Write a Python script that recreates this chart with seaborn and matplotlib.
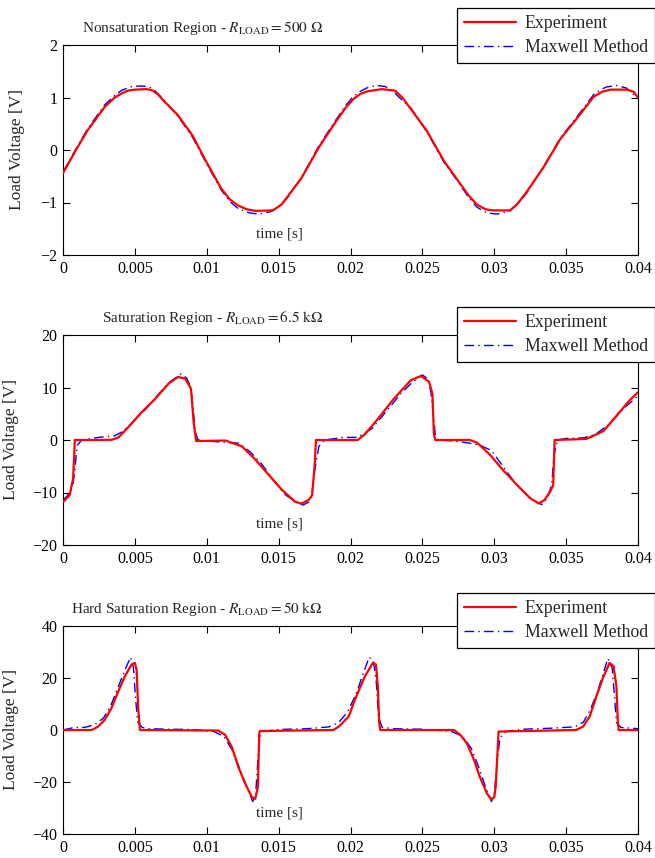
import numpy as np
import pandas as pd
import matplotlib
matplotlib.use('Agg')
import matplotlib.pyplot as plt
import seaborn as sns

# ---- data (time in s, voltage in V) ----
# Nonsaturation region, R_LOAD = 500 Ohm
t1_exp = [0, 0.0009, 0.0017, 0.0029, 0.0036, 0.0041, 0.0045, 0.0050, 0.0058, 0.0062,
          0.0066, 0.0071, 0.0080, 0.0090, 0.0100, 0.0110, 0.0116, 0.0122, 0.0128, 0.0134,
          0.0146, 0.0152, 0.0157, 0.0166, 0.0178, 0.0190, 0.0197, 0.0202, 0.0207, 0.0212,
          0.0222, 0.0231, 0.0236, 0.0242, 0.0253, 0.0265, 0.0276, 0.0282, 0.0288, 0.0294,
          0.0299, 0.0311, 0.0316, 0.0322, 0.0334, 0.0346, 0.0358, 0.0369, 0.0375, 0.0381,
          0.0392, 0.0397, 0.0400]
v1_exp = [-0.44, 0.0, 0.37, 0.82, 1.00, 1.08, 1.13, 1.15, 1.16, 1.14,
          1.06, 0.91, 0.66, 0.28, -0.24, -0.73, -0.94, -1.06, -1.13, -1.16,
          -1.15, -1.04, -0.86, -0.53, 0.05, 0.55, 0.82, 0.97, 1.07, 1.12,
          1.16, 1.13, 1.00, 0.78, 0.37, -0.21, -0.63, -0.86, -1.04, -1.13,
          -1.15, -1.15, -1.03, -0.82, -0.34, 0.21, 0.62, 1.01, 1.11, 1.15,
          1.15, 1.11, 1.00]
t1_mx = [0, 0.0009, 0.0017, 0.0029, 0.0036, 0.0041, 0.0048, 0.0055, 0.0060, 0.0064,
         0.0071, 0.0080, 0.0090, 0.0100, 0.0110, 0.0116, 0.0122, 0.0130, 0.0137, 0.0145,
         0.0151, 0.0157, 0.0166, 0.0178, 0.0190, 0.0197, 0.0202, 0.0207, 0.0212, 0.0218,
         0.0224, 0.0229, 0.0234, 0.0242, 0.0253, 0.0265, 0.0276, 0.0282, 0.0288, 0.0295,
         0.0302, 0.0310, 0.0316, 0.0322, 0.0334, 0.0346, 0.0358, 0.0369, 0.0374, 0.0378,
         0.0385, 0.0392, 0.0400]
v1_mx = [-0.42, 0.02, 0.40, 0.86, 1.04, 1.14, 1.21, 1.22, 1.20, 1.13,
         0.93, 0.64, 0.25, -0.27, -0.76, -0.98, -1.12, -1.20, -1.22, -1.17,
         -1.06, -0.88, -0.52, 0.08, 0.58, 0.86, 1.02, 1.12, 1.19, 1.23,
         1.21, 1.14, 1.00, 0.80, 0.35, -0.23, -0.65, -0.90, -1.09, -1.20,
         -1.22, -1.17, -1.04, -0.84, -0.33, 0.23, 0.65, 1.05, 1.15, 1.20,
         1.23, 1.18, 0.98]

# Saturation region, R_LOAD = 6.5 kOhm
t2_exp = [0, 0.00047, 0.0007, 0.00078, 0.00082, 0.0020, 0.0034, 0.00384, 0.00453, 0.00547,
          0.0064, 0.00733, 0.0080, 0.0085, 0.0089, 0.0091, 0.0092, 0.00926, 0.0113, 0.01244,
          0.01337, 0.0143, 0.01523, 0.01616, 0.0166, 0.0171, 0.01733, 0.0175, 0.0176, 0.0205,
          0.0210, 0.0219, 0.0230, 0.0242, 0.0249, 0.02546, 0.0257, 0.0258, 0.0259, 0.0283,
          0.0288, 0.0297, 0.0306, 0.0316, 0.0325, 0.0331, 0.0335, 0.0339, 0.0341, 0.0342,
          0.0364, 0.0376, 0.0385, 0.0394, 0.0400]
v2_exp = [-11.8, -10.5, -7.3, -3.0, 0.0, 0.0, 0.05, 0.45, 2.4, 5.3,
          7.8, 10.7, 12.0, 11.7, 9.8, 3.0, 1.1, -0.2, -0.1, -1.2,
          -3.7, -6.6, -9.5, -11.8, -12.1, -11.4, -10.5, -5.0, 0.0, 0.0,
          1.1, 4.0, 7.8, 11.4, 12.2, 11.1, 8.8, 1.1, 0.0, 0.0,
          -0.5, -2.8, -5.7, -8.6, -11.1, -12.1, -11.4, -9.8, -8.6, 0.0,
          0.2, 1.7, 4.6, 7.5, 9.1]
t2_mx = [0, 0.0004, 0.0007, 0.0008, 0.0010, 0.0013, 0.0025, 0.0036, 0.0042, 0.0050,
         0.0058, 0.0066, 0.0074, 0.0082, 0.0086, 0.0089, 0.00905, 0.0092, 0.0094, 0.0105,
         0.0115, 0.0122, 0.0130, 0.0138, 0.0146, 0.0155, 0.0162, 0.0167, 0.0171, 0.0173,
         0.0175, 0.0178, 0.0182, 0.0195, 0.0205, 0.0215, 0.0225, 0.0235, 0.0243, 0.0250,
         0.0254, 0.0256, 0.02575, 0.0259, 0.0261, 0.0272, 0.0283, 0.0290, 0.0298, 0.0306,
         0.0314, 0.0322, 0.0328, 0.0333, 0.0337, 0.0340, 0.03415, 0.0344, 0.0350, 0.0362,
         0.0370, 0.0380, 0.0390, 0.0400]
v2_mx = [-11.5, -10.3, -8.5, -6.0, -1.0, 0.0, 0.5, 0.8, 1.7, 3.8,
         6.0, 8.6, 11.0, 12.6, 11.8, 10.0, 6.0, 1.5, 0.0, -0.3,
         -0.5, -0.6, -2.2, -4.5, -7.5, -10.5, -11.8, -12.4, -11.8, -10.5,
         -6.0, -1.2, 0.0, 0.5, 0.5, 2.2, 5.5, 8.8, 11.0, 12.4,
         11.6, 9.0, 5.0, 1.0, 0.0, -0.2, -0.6, -1.0, -2.0, -5.0,
         -8.0, -10.3, -11.6, -12.3, -11.0, -8.5, -3.0, 0.0, 0.3, 0.4,
         1.0, 3.0, 6.0, 8.4]

# Hard saturation region, R_LOAD = 50 kOhm
t3_exp = [0, 0.0020, 0.00244, 0.0029, 0.00337, 0.00384, 0.0043, 0.00477, 0.0050, 0.00512,
          0.00523, 0.00535, 0.0108, 0.01128, 0.01174, 0.0122, 0.01267, 0.01314, 0.01337, 0.01356,
          0.01365, 0.0137, 0.0188, 0.01919, 0.01988, 0.0203, 0.0210, 0.02155, 0.02177, 0.0219,
          0.0220, 0.02207, 0.0272, 0.02765, 0.0281, 0.0286, 0.0290, 0.0295, 0.0298, 0.0300,
          0.0301, 0.0303, 0.0357, 0.03618, 0.03664, 0.0371, 0.03756, 0.03802, 0.0383, 0.0385,
          0.0386, 0.03866, 0.0400]
v3_exp = [0, 0, 1.3, 3.9, 8.4, 14.8, 20.6, 25.2, 25.8, 23.2,
          8.4, 0.0, -0.2, -1.9, -6.5, -14.2, -20.6, -25.8, -26.5, -21.9,
          -1.3, -0.4, 0.0, 1.3, 5.2, 11.6, 20.6, 25.8, 25.2, 16.8,
          2.6, 0.0, 0.0, -1.9, -5.2, -11.6, -18.1, -24.5, -26.7, -25.8,
          -21.9, -0.6, 0.0, 1.3, 5.2, 12.9, 20.0, 25.8, 24.5, 16.8,
          2.6, 0.0, 0.0]
t3_mx = [0, 0.0008, 0.0015, 0.0022, 0.0028, 0.0033, 0.0038, 0.0043, 0.0047, 0.0049,
         0.00505, 0.0052, 0.0055, 0.0060, 0.0075, 0.0090, 0.0105, 0.0112, 0.0118, 0.0123,
         0.0128, 0.0132, 0.0134, 0.01355, 0.0137, 0.0140, 0.0150, 0.0170, 0.0185, 0.0192,
         0.0198, 0.0204, 0.0209, 0.0213, 0.0216, 0.0218, 0.02195, 0.0222, 0.0230, 0.0250,
         0.0270, 0.0278, 0.0284, 0.0289, 0.0294, 0.0298, 0.0300, 0.0302, 0.0304, 0.0308,
         0.0320, 0.0340, 0.0356, 0.0362, 0.0367, 0.0372, 0.0376, 0.0379, 0.0382, 0.03835,
         0.0385, 0.0388, 0.0400]
v3_mx = [0, 1.0, 1.0, 2.0, 4.5, 9.0, 16.0, 23.0, 28.0, 24.0,
         12.0, 3.0, 1.0, 0.5, 0.3, 0.2, -0.6, -2.5, -8.0, -15.0,
         -22.0, -27.5, -25.0, -12.0, -2.5, -0.5, 0.2, 0.5, 1.2, 3.0,
         7.0, 14.0, 22.0, 28.0, 26.5, 18.0, 5.0, 1.0, 0.5, 0.3,
         -0.5, -2.5, -7.0, -14.0, -22.0, -27.5, -25.0, -12.0, -3.0, -0.5,
         0.3, 0.7, 1.2, 3.0, 8.0, 15.0, 22.0, 27.5, 24.0, 14.0,
         3.0, 1.0, 0.5]

titles = [r'Nonsaturation Region - $R_{\mathrm{LOAD}} = 500\ \Omega$',
          r'Saturation Region - $R_{\mathrm{LOAD}} = 6.5\ \mathrm{k}\Omega$',
          r'Hard Saturation Region - $R_{\mathrm{LOAD}} = 50\ \mathrm{k}\Omega$']
ylims = [(-2, 2), (-20, 20), (-40, 40)]
yticks = [[-2, -1, 0, 1, 2], [-20, -10, 0, 10, 20], [-40, -20, 0, 20, 40]]
xticks = [0, 0.005, 0.01, 0.015, 0.02, 0.025, 0.03, 0.035, 0.04]
xticklabels = ['0', '0.005', '0.01', '0.015', '0.02', '0.025', '0.03', '0.035', '0.04']

panels = [(t1_exp, v1_exp, t1_mx, v1_mx),
          (t2_exp, v2_exp, t2_mx, v2_mx),
          (t3_exp, v3_exp, t3_mx, v3_mx)]

sns.set_style('ticks')
plt.rcParams['font.family'] = ['Liberation Serif', 'DejaVu Serif']
plt.rcParams['mathtext.fontset'] = 'stix'

fig = plt.figure(figsize=(6.55, 8.58), dpi=100)
W, H = 655, 858
# axes boxes in pixels: (left, top, right, bottom)
boxes = [(63, 45, 638, 255), (63, 335, 638, 545), (63, 626, 638, 834)]
legend_tops = [8, 307, 593]
ylabel_x = [-0.066, -0.077, -0.077]

for i, (te, ve, tm, vm) in enumerate(panels):
    l, t, r, b = boxes[i]
    ax = fig.add_axes([l / W, 1 - b / H, (r - l) / W, (b - t) / H])
    exp_df = pd.DataFrame({'t': te, 'v': ve})
    mx_df = pd.DataFrame({'t': tm, 'v': vm})
    sns.lineplot(data=exp_df, x='t', y='v', ax=ax, color='red', lw=1.6,
                 estimator=None, sort=False, label='Experiment', zorder=3)
    sns.lineplot(data=mx_df, x='t', y='v', ax=ax, color='blue', lw=1.0,
                 estimator=None, sort=False, label='Maxwell Method', zorder=2,
                 dashes=False, linestyle=(0, (7, 3, 1, 3)))
    ax.set_xlim(0, 0.04)
    ax.set_ylim(*ylims[i])
    ax.set_xticks(xticks)
    ax.set_xticklabels(xticklabels)
    ax.set_yticks(yticks[i])
    ax.tick_params(direction='in', top=True, right=True, length=5, width=0.8,
                   labelsize=11.5, pad=4, colors='black')
    for sp in ax.spines.values():
        sp.set_linewidth(0.8)
        sp.set_color('black')
    ax.set_xlabel('')
    ax.set_ylabel('Load Voltage [V]', fontsize=12.5)
    ax.yaxis.set_label_coords(ylabel_x[i], 0.5)
    ax.text(0.3757, 0.10, 'time [s]', transform=ax.transAxes, ha='center',
            va='center', fontsize=11)
    ax.text(0.452, 1.08, titles[i], transform=ax.transAxes, ha='right',
            va='center', fontsize=11)
    leg = ax.legend(loc='upper left', bbox_to_anchor=(457 / W, 1 - legend_tops[i] / H),
                    bbox_transform=fig.transFigure, fontsize=12.8, frameon=True,
                    fancybox=False, framealpha=1, edgecolor='black',
                    handlelength=2.9, handletextpad=0.5, labelspacing=0.4,
                    borderpad=0.4, borderaxespad=0)
    leg.get_frame().set_linewidth(0.9)
    leg.set_zorder(10)

fig.savefig('out.png', dpi=100)
